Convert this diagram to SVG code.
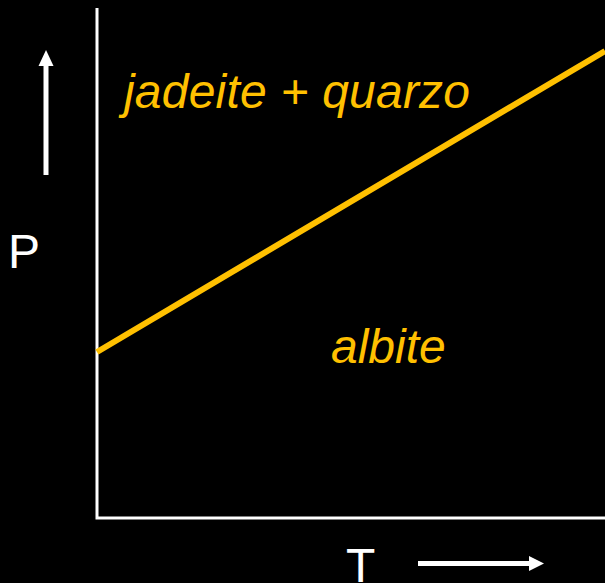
<svg xmlns="http://www.w3.org/2000/svg" width="605" height="583" viewBox="0 0 605 583">
<style>
.ax{stroke:#fff;stroke-width:3;fill:none}
.ar{stroke:#fff;stroke-width:5;fill:none}
.lbl{font-family:"Liberation Sans",Arial,sans-serif;font-size:48px;fill:#fff}
.ph{font-family:"Liberation Sans",Arial,sans-serif;font-size:48px;font-style:italic;fill:#FFC000}
</style>
<rect width="605" height="583" fill="#000"/>
<g id="axes">
<polyline class="ax" points="97,8 97,518 605,518"/>
</g>
<g id="connectors">
<line x1="97" y1="352" x2="605" y2="51" stroke="#FFC000" stroke-width="6"/>
<line class="ar" x1="46" y1="175" x2="46" y2="64"/>
<polygon points="46,50 38.5,66 53.5,66" fill="#fff"/>
<line class="ar" x1="418" y1="563.5" x2="531" y2="563.5"/>
<polygon points="544,563.5 529,556 529,571" fill="#fff"/>
</g>
<g id="P"><text class="lbl" x="8" y="268">P</text></g>
<g id="T"><text class="lbl" x="346" y="582">T</text></g>
<g id="jadeite"><text class="ph" x="124" y="108" textLength="346">jadeite + quarzo</text></g>
<g id="albite"><text class="ph" x="331" y="363">albite</text></g>
</svg>
